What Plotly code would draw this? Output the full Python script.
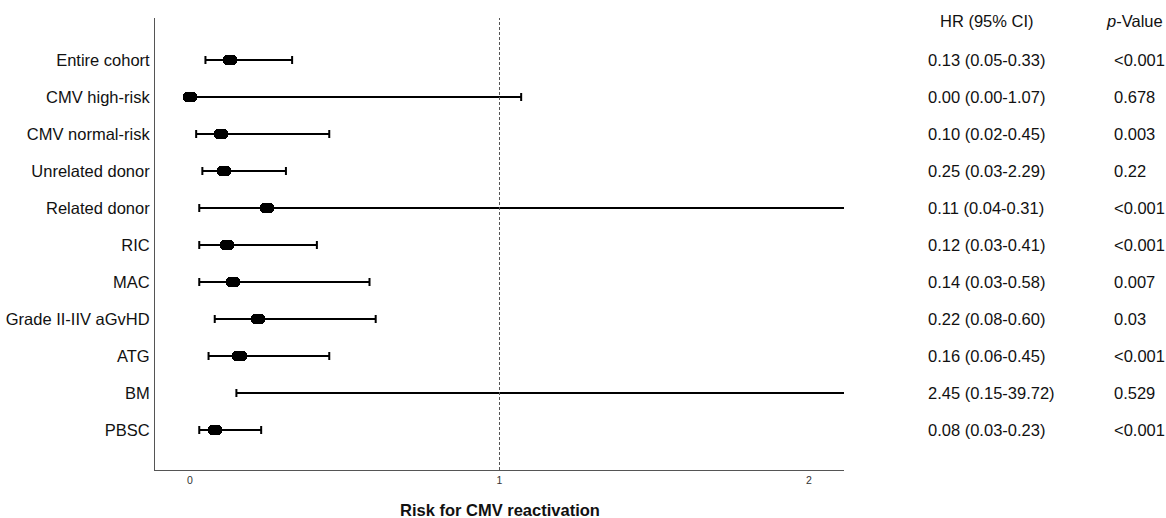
import plotly.graph_objects as go

labels = ["Entire cohort", "CMV high-risk", "CMV normal-risk", "Unrelated donor",
          "Related donor", "RIC", "MAC", "Grade II-IIV aGvHD", "ATG", "BM", "PBSC"]
# values as drawn in the plot
hr = [0.13, 0.00, 0.10, 0.11, 0.25, 0.12, 0.14, 0.22, 0.16, 2.45, 0.08]
lo = [0.05, 0.00, 0.02, 0.04, 0.03, 0.03, 0.03, 0.08, 0.06, 0.15, 0.03]
hi = [0.33, 1.07, 0.45, 0.31, 2.29, 0.41, 0.58, 0.60, 0.45, 39.72, 0.23]
# texts as printed in the table columns
hr_text = ["0.13 (0.05-0.33)", "0.00 (0.00-1.07)", "0.10 (0.02-0.45)", "0.25 (0.03-2.29)",
           "0.11 (0.04-0.31)", "0.12 (0.03-0.41)", "0.14 (0.03-0.58)", "0.22 (0.08-0.60)",
           "0.16 (0.06-0.45)", "2.45 (0.15-39.72)", "0.08 (0.03-0.23)"]
p_text = ["<0.001", "0.678", "0.003", "0.22", "<0.001", "<0.001", "0.007", "0.03",
          "<0.001", "0.529", "<0.001"]
x_ticks = [0, 1, 2]

FONT = "Liberation Sans, Arial, sans-serif"
n = len(labels)
ypos = list(range(n))
box = 0.046  # length of the marker box in data units (~14 px)

fig = go.Figure()
fig.add_trace(go.Bar(
    y=ypos, x=[box] * n, base=[v - box / 2 for v in hr], orientation="h", width=0.28,
    marker=dict(color="black", cornerradius=4, line=dict(width=0)),
    showlegend=False, hoverinfo="skip"))

fig.add_trace(go.Scatter(
    x=hr, y=ypos, mode="markers",
    marker=dict(size=2, color="black", opacity=0),
    error_x=dict(type="data", symmetric=False,
                 array=[h - m for h, m in zip(hi, hr)],
                 arrayminus=[m - l for m, l in zip(hr, lo)],
                 color="black", thickness=2, width=4),
    showlegend=False, hoverinfo="skip"))

fig.add_shape(type="line", x0=1, x1=1, xref="x", y0=0, y1=1, yref="paper",
              line=dict(color="#555555", width=1, dash="3px,2px"))

# table columns
for i in range(n):
    fig.add_annotation(x=(926 - 155) / 689, xref="paper", y=ypos[i], yref="y",
                       text=hr_text[i], showarrow=False, xanchor="left",
                       font=dict(family=FONT, size=16.5, color="#111111"))
    fig.add_annotation(x=(1112 - 155) / 689, xref="paper", y=ypos[i], yref="y",
                       text=p_text[i], showarrow=False, xanchor="left",
                       font=dict(family=FONT, size=16.5, color="#111111"))
fig.add_annotation(x=(987 - 155) / 689, xref="paper", y=-1.06, yref="y",
                   text="HR (95% CI)", showarrow=False, xanchor="center",
                   font=dict(family=FONT, size=16.5, color="#111111"))
fig.add_annotation(x=(1104 - 155) / 689, xref="paper", y=-1.06, yref="y",
                   text="<i>p</i>-Value", showarrow=False, xanchor="left",
                   font=dict(family=FONT, size=16.5, color="#111111"))
# x-axis title
fig.add_annotation(x=0.5, xref="paper", y=-40 / 452, yref="paper", yanchor="middle",
                   text="<b>Risk for CMV reactivation</b>", showarrow=False,
                   font=dict(family=FONT, size=16.5, color="#111111"))

fig.update_layout(
    template="none",
    width=1166, height=518,
    margin=dict(l=155, r=322, t=18, b=48, autoexpand=False),
    paper_bgcolor="white", plot_bgcolor="white",
    barmode="overlay", bargap=0,
    font=dict(family=FONT, color="#111111"),
    xaxis=dict(range=[-0.113, 2.113], tickvals=x_ticks, ticktext=[str(v) for v in x_ticks],
               showgrid=False, zeroline=False, showline=True, linecolor="#555555",
               linewidth=1, ticks="", automargin=False,
               tickfont=dict(size=10.5, color="#333333")),
    yaxis=dict(range=[11.081, -1.135], tickvals=ypos, ticktext=labels,
               showgrid=False, zeroline=False, showline=True, linecolor="#555555",
               linewidth=1, ticks="", ticklabelstandoff=1, automargin=False,
               tickfont=dict(size=16.5, color="#111111")),
)

fig.write_html("out.html", config={"displayModeBar": False},
               post_script="document.body.style.margin='0px';")
